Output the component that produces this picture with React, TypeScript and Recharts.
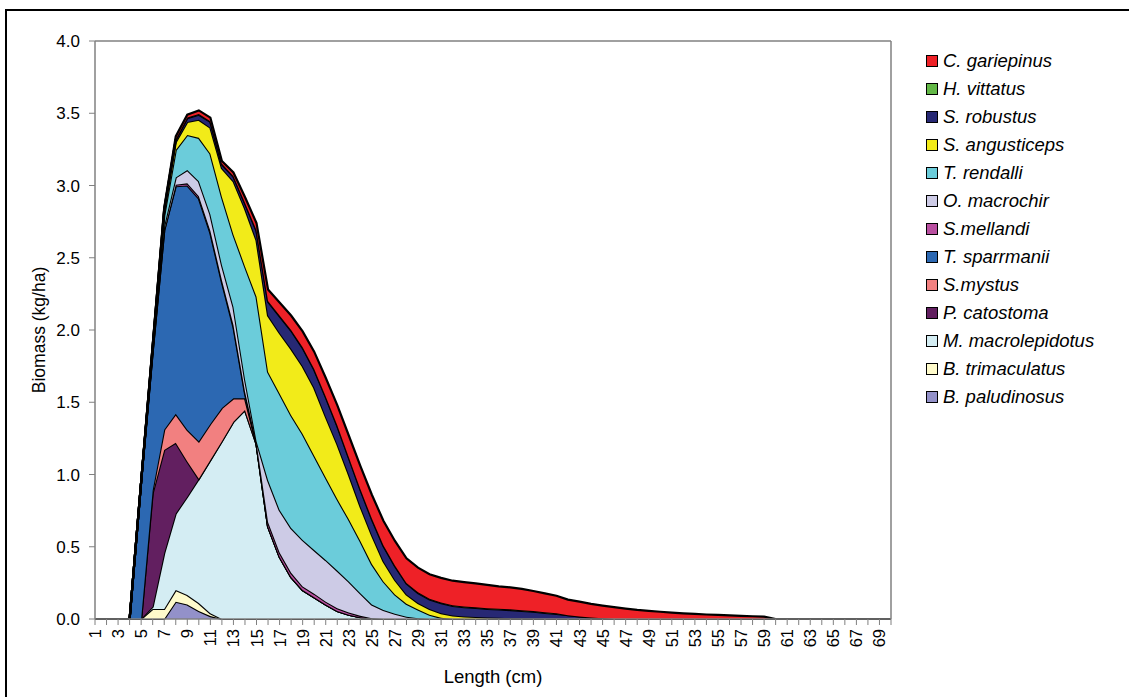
import React from 'react';
import { AreaChart, Area, XAxis, YAxis, ReferenceLine } from 'recharts';

const lengths: number[] = Array.from({ length: 70 }, (_, i) => i + 1);

// values per length class 1..70 (kg/ha)
const bPaludinosus = [0,0,0,0,0,0,0,0.12,0.10,0.055,0.02];
const bTrimaculatus = [0,0,0,0,0,0.07,0.07,0.08,0.066,0.055,0.02];
const mMacrolepidotus = [0,0,0,0,0,0.015,0.385,0.53,0.68,0.86,1.06,1.23,1.365,1.446,1.21,0.64,0.43,0.29,0.20,0.15,0.10,0.055,0.03,0.012];
const pCatostoma = [0,0,0,0,0,0.785,0.715,0.49,0.244];
const sMystus = [0,0,0,0,0,0.02,0.14,0.20,0.22,0.26,0.25,0.23,0.162,0.081];
const tSparrmanii = [0,0,0,0,0.95,0.96,1.38,1.575,1.69,1.68,1.32,0.87,0.493,0.033];
const sMellandi = [0,0,0,0,0,0,0,0.01,0.015,0.015,0.015,0.015,0.015,0.015,0.01,0.03,0.03,0.03,0.025,0.025,0.02,0.02,0.015,0.01,0.005];
const oMacrochir = [0,0,0,0,0,0.01,0.03,0.051,0.092,0.105,0.115,0.105,0.125,0.085,0.01,0.29,0.294,0.31,0.322,0.302,0.288,0.26,0.215,0.156,0.095,0.062,0.037,0.016,0.005];
const tRendalli = [0,0,0,0,0,0.015,0.07,0.189,0.243,0.30,0.42,0.47,0.50,0.78,1.00,0.75,0.806,0.78,0.733,0.653,0.572,0.495,0.43,0.362,0.28,0.198,0.133,0.089,0.06,0.03,0.008];
const sAngusticeps = [0,0,0,0,0,0.01,0.03,0.055,0.09,0.125,0.18,0.20,0.37,0.40,0.39,0.39,0.42,0.46,0.47,0.47,0.42,0.38,0.31,0.24,0.20,0.14,0.10,0.065,0.045,0.04,0.032,0.025,0.018,0.014,0.01,0.008,0.006,0.004,0.002];
const sRobustus = [0,0,0,0,0,0.007,0.015,0.015,0.025,0.035,0.04,0.025,0.03,0.035,0.065,0.095,0.115,0.125,0.125,0.125,0.135,0.125,0.115,0.115,0.11,0.105,0.095,0.075,0.07,0.065,0.07,0.065,0.064,0.062,0.06,0.058,0.056,0.052,0.048,0.042,0.035,0.026,0.018,0.01,0.005];
const hVittatus = [0,0,0,0,0,0,0,0.005,0.005,0.005,0.005,0.005,0.005,0.005,0.005,0.005,0.005,0.005,0.005,0.005,0.005,0.005,0.005,0.005,0.005,0.005,0.005,0.005,0.005,0.005,0.005,0.005,0.005,0.005,0.005,0.005,0.005,0.005,0.005,0.005,0.005];
const cGariepinus = [0,0,0,0,0,0.006,0.012,0.02,0.02,0.025,0.025,0.02,0.025,0.04,0.05,0.08,0.09,0.10,0.11,0.12,0.13,0.14,0.15,0.16,0.165,0.17,0.17,0.17,0.17,0.17,0.17,0.17,0.168,0.165,0.161,0.155,0.152,0.147,0.139,0.13,0.121,0.108,0.102,0.095,0.088,0.082,0.072,0.063,0.056,0.05,0.044,0.039,0.035,0.031,0.028,0.025,0.022,0.019,0.016,0];

const yTicks = [0, 0.5, 1, 1.5, 2, 2.5, 3, 3.5, 4];

const species = [
  { key: 'bpal', name: 'B. paludinosus', values: bPaludinosus, color: '#9391C9' },
  { key: 'btri', name: 'B. trimaculatus', values: bTrimaculatus, color: '#FFFBCB' },
  { key: 'mmac', name: 'M. macrolepidotus', values: mMacrolepidotus, color: '#D4EDF3' },
  { key: 'pcat', name: 'P. catostoma', values: pCatostoma, color: '#621F60' },
  { key: 'smys', name: 'S.mystus', values: sMystus, color: '#F28080' },
  { key: 'tspa', name: 'T. sparrmanii', values: tSparrmanii, color: '#2C68B2' },
  { key: 'smel', name: 'S.mellandi', values: sMellandi, color: '#B94FA0' },
  { key: 'omac', name: 'O. macrochir', values: oMacrochir, color: '#CDCBE6' },
  { key: 'tren', name: 'T. rendalli', values: tRendalli, color: '#6BCCDA' },
  { key: 'sang', name: 'S. angusticeps', values: sAngusticeps, color: '#F2EB19' },
  { key: 'srob', name: 'S. robustus', values: sRobustus, color: '#272874' },
  { key: 'hvit', name: 'H. vittatus', values: hVittatus, color: '#63B847' },
  { key: 'cgar', name: 'C. gariepinus', values: cGariepinus, color: '#EE2127' },
];

const data = lengths.map((len, i) => {
  const row: Record<string, number> = { len };
  species.forEach((s) => {
    row[s.key] = s.values[i] ?? 0;
  });
  return row;
});

const FONT = '"Liberation Sans", Arial, sans-serif';

const XTick = (props: any) => {
  const { x, y, payload } = props;
  const v = payload.value as number;
  if (v % 2 === 0) return null;
  return (
    <text
      x={0}
      y={0}
      transform={`translate(${x + 6},${y + 2}) rotate(-90)`}
      textAnchor="end"
      fontSize={16.5}
      fontFamily={FONT}
      fill="#000"
    >
      {v}
    </text>
  );
};

const YTick = (props: any) => {
  const { x, y, payload } = props;
  return (
    <text x={x - 7} y={y + 6} textAnchor="end" fontSize={17} fontFamily={FONT} fill="#000">
      {(payload.value as number).toFixed(1)}
    </text>
  );
};

const LegendBox = () => {
  const items = [...species].reverse();
  return (
    <div style={{ position: 'absolute', left: 926, top: 47, fontFamily: FONT }}>
      {items.map((s) => (
        <div key={s.key} style={{ display: 'flex', alignItems: 'center', height: 28 }}>
          <div style={{ width: 10, height: 10, background: s.color, border: '1px solid #000', marginRight: 5 }} />
          <span style={{ fontStyle: 'italic', fontSize: 18.5, color: '#000' }}>{s.name}</span>
        </div>
      ))}
    </div>
  );
};

export default function App() {
  return (
    <div style={{ position: 'absolute', left: 0, top: 0, width: 1129, height: 697, background: '#fff', overflow: 'hidden' }}>
      <div style={{ position: 'absolute', left: 5, top: 9, width: 1140, height: 700, border: '2px solid #000', boxSizing: 'border-box' }} />
      <div style={{ position: 'absolute', left: 0, top: 0 }}>
        <AreaChart
          width={1129}
          height={697}
          data={data}
          margin={{ top: 41, right: 238, bottom: 18, left: 35 }}
        >
          <XAxis
            dataKey="len"
            type="category"
            interval={0}
            tick={<XTick />}
            tickLine={{ stroke: '#808080' }}
            tickSize={6}
            axisLine={{ stroke: '#808080', strokeWidth: 1.5 }}
            height={60}
            label={{ value: 'Length (cm)', position: 'insideBottom', offset: -4, fontSize: 18.5, fontFamily: FONT, fill: '#000' }}
          />
          <YAxis
            domain={[0, 4]}
            ticks={yTicks}
            interval={0}
            width={60}
            tick={<YTick />}
            tickLine={{ stroke: '#808080' }}
            tickSize={6}
            axisLine={{ stroke: '#808080', strokeWidth: 1.5 }}
            label={{ value: 'Biomass (kg/ha)', angle: -90, position: 'insideLeft', offset: 4, fontSize: 17.5, fontFamily: FONT, fill: '#000', style: { textAnchor: 'middle' } }}
          />
          <ReferenceLine y={4} stroke="#808080" strokeWidth={1.5} />
          <ReferenceLine x={70} stroke="#808080" strokeWidth={1.5} />
          {species.map((s) => (
            <Area
              key={s.key}
              type="linear"
              dataKey={s.key}
              name={s.name}
              stackId="1"
              stroke="#000"
              strokeWidth={2.2}
              fill={s.color}
              fillOpacity={1}
              isAnimationActive={false}
              dot={false}
              activeDot={false}
            />
          ))}
        </AreaChart>
      </div>
      <LegendBox />
    </div>
  );
}
